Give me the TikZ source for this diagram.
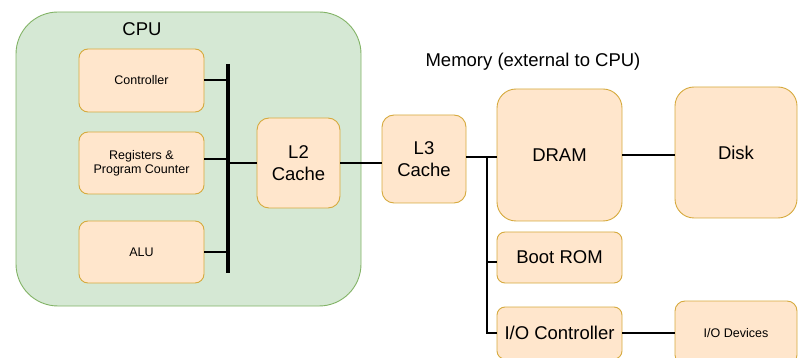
\documentclass[tikz,border=0pt]{standalone}
\usepackage{fontspec}
\setmainfont{Liberation Sans}
\definecolor{cpufill}{HTML}{D5E8D4}
\definecolor{cpustroke}{HTML}{82B366}
\definecolor{boxfill}{HTML}{FFE6CC}
\definecolor{boxstroke}{RGB}{214,170,62}
\tikzset{
  unit/.style={draw=boxstroke, fill=boxfill, line width=0.9pt, inner sep=0pt, align=center},
  big/.style={font=\fontsize{18.5}{21.5}\selectfont},
  small/.style={font=\fontsize{12.5}{14.3}\selectfont},
  wire/.style={line width=1.6pt, black},
  busline/.style={line width=4.5pt, black},
}
\begin{document}
\begin{tikzpicture}[x=1pt,y=-1pt]
\useasboundingbox (0,0) rectangle (798,358);
\clip (0,0) rectangle (798,358);
% CPU container
\node[draw=cpustroke, fill=cpufill, line width=0.9pt, rounded corners=42pt, minimum width=345pt, minimum height=294pt, inner sep=0pt] (cpu) at (188.5,159) {};
\node[big] (cpulabel) at (142,29) {CPU};
\node[big] (memlabel) at (533,62) {Memory (external to CPU)};
% CPU internal units
\node[unit, small, rounded corners=9pt, minimum width=125pt, minimum height=63pt] (ctrl) at (141.5,80.5) {Controller};
\node[unit, small, rounded corners=9pt, minimum width=125pt, minimum height=62pt] (regs) at (141.5,163) {Registers \&\\Program Counter};
\node[unit, small, rounded corners=9pt, minimum width=125pt, minimum height=62pt] (alu) at (141.5,252) {ALU};
\node[unit, big, rounded corners=12pt, minimum width=83pt, minimum height=90pt] (l2) at (298.5,163) {L2\\Cache};
% Memory units
\node[unit, big, rounded corners=12pt, minimum width=84pt, minimum height=88pt] (l3) at (424,159) {L3\\Cache};
\node[unit, big, rounded corners=19pt, minimum width=125pt, minimum height=132pt] (dram) at (559.5,155) {DRAM};
\node[unit, big, rounded corners=19pt, minimum width=122pt, minimum height=131pt] (disk) at (736,152.5) {Disk};
\node[unit, big, rounded corners=8pt, minimum width=125pt, minimum height=51pt] (boot) at (559.5,257.5) {Boot ROM};
\node[unit, big, rounded corners=8pt, minimum width=125pt, minimum height=52pt] (ioc) at (559.5,333) {I/O Controller};
\node[unit, small, rounded corners=10pt, minimum width=122pt, minimum height=64pt] (iod) at (736,333) {I/O Devices};
% CPU bus
\coordinate (bustop) at (228,64);
\coordinate (busbot) at (228,273);
\draw[busline] (bustop) -- (busbot);
\coordinate (bctrl) at (228,80);
\coordinate (bregs) at (228,159);
\coordinate (balu) at (228,252);
\coordinate (bl2) at (228,163);
\draw[wire] (ctrl.east |- bctrl) -- (bctrl);
\draw[wire] (regs.east |- bregs) -- (bregs);
\draw[wire] (alu.east |- balu) -- (balu);
\draw[wire] (bl2) -- (l2.west |- bl2);
\draw[wire] (l2.east) -- (l2.east -| l3.west);
% memory bus
\coordinate (mtop) at (487,157);
\coordinate (mboot) at (487,262);
\coordinate (mioc) at (487,333);
\draw[wire] (l3.east |- mtop) -- (dram.west |- mtop);
\draw[wire] (mtop) -- (mioc) -- (ioc.west |- mioc);
\draw[wire] (mboot) -- (boot.west |- mboot);
\draw[wire] (dram.east) -- (dram.east -| disk.west);
\draw[wire] (ioc.east) -- (ioc.east -| iod.west);
\end{tikzpicture}
\end{document}
